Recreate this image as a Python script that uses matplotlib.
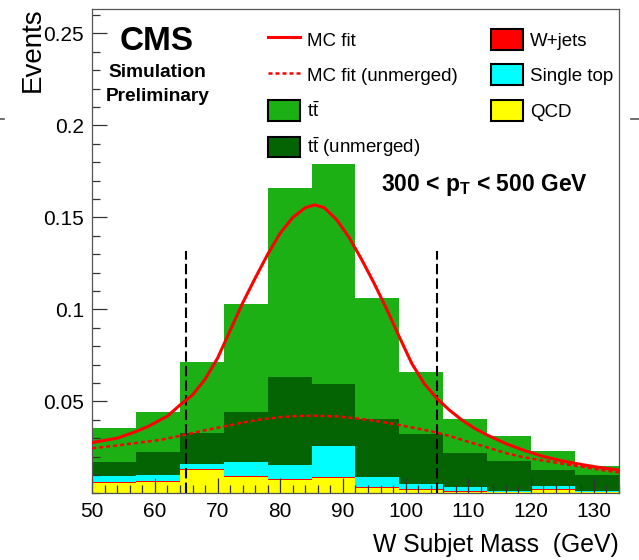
import numpy as np
import matplotlib.pyplot as plt
from matplotlib.lines import Line2D
from matplotlib.patches import Patch
from matplotlib.ticker import MultipleLocator

plt.rcParams['font.family'] = 'Liberation Sans'
plt.rcParams['mathtext.fontset'] = 'custom'
plt.rcParams['mathtext.rm'] = 'Liberation Sans'
plt.rcParams['mathtext.it'] = 'Liberation Sans:italic'
plt.rcParams['mathtext.bf'] = 'Liberation Sans:bold'

# W subjet mass histogram: 12 bins of 7 GeV
bin_edges = [50, 57, 64, 71, 78, 85, 92, 99, 106, 113, 120, 127, 134]

# per-sample contributions (stacked bottom to top)
qcd = [0.0058, 0.0059, 0.0124, 0.0086, 0.0073, 0.0082, 0.0027, 0.0020, 0.0005, 0.0005, 0.0018, 0.0005]
wjets = [0.0006, 0.0009, 0.0007, 0.0007, 0.0007, 0.0006, 0.0006, 0.0005, 0.0005, 0.0004, 0.0004, 0.0004]
single_top = [0.0032, 0.0032, 0.0029, 0.0077, 0.0075, 0.0167, 0.0058, 0.0024, 0.0026, 0.0003, 0.0020, 0.0003]
ttbar_unmerged = [0.0073, 0.0124, 0.0167, 0.0271, 0.0478, 0.0341, 0.0313, 0.0275, 0.0182, 0.0164, 0.0083, 0.0085]
ttbar = [0.0186, 0.0216, 0.0388, 0.0586, 0.1027, 0.1194, 0.0656, 0.0334, 0.0186, 0.0134, 0.0106, 0.0049]

# fitted curves
fit_mass = [50, 54, 57, 59, 62, 64, 66, 68, 70, 72, 74, 76, 78, 80, 82, 84, 85.5,
            87, 89, 91, 93, 95, 97, 99, 101, 103, 105, 107, 109, 111, 113, 116,
            119, 122, 125, 128, 131, 134]
fit_events = [0.0276, 0.0300, 0.0336, 0.0365, 0.0420, 0.0480, 0.0535, 0.0620, 0.0735,
              0.0885, 0.1035, 0.1170, 0.1300, 0.1415, 0.1500, 0.1553, 0.1568,
              0.1553, 0.1487, 0.1390, 0.1270, 0.1140, 0.1000, 0.0850, 0.0705,
              0.0595, 0.0515, 0.0452, 0.0398, 0.0353, 0.0317, 0.0270, 0.0232,
              0.0200, 0.0176, 0.0157, 0.0140, 0.0127]

fit_unm_mass = [50, 54, 58, 61, 65, 68, 71, 74, 77, 80, 83, 86, 89, 92, 95, 98,
                101, 104, 107, 110, 113, 116, 119, 122, 125, 128, 131, 134]
fit_unm_events = [0.0245, 0.0260, 0.0278, 0.0291, 0.0320, 0.0343, 0.0363, 0.0385,
                  0.0402, 0.0414, 0.0421, 0.0422, 0.0418, 0.0408, 0.0395, 0.0378,
                  0.0358, 0.0338, 0.0312, 0.0280, 0.0250, 0.0218, 0.0195, 0.0178,
                  0.0161, 0.0145, 0.0128, 0.0113]

# mass window
window = [65, 105]
window_top = 0.132

fig = plt.figure(figsize=(6.39, 5.6), dpi=100)
ax = fig.add_axes([0.1444, 0.1191, 0.8238, 0.8648])

stack = [(qcd, '#ffff00'), (wjets, '#ff0000'), (single_top, '#00ffff'),
         (ttbar_unmerged, '#046404'), (ttbar, '#1db014')]
bottom = np.zeros(len(bin_edges) - 1)
for vals, col in stack:
    top = bottom + np.array(vals)
    ax.stairs(top, bin_edges, baseline=bottom, fill=True, color=col, lw=0, zorder=1)
    bottom = top

for m in window:
    ax.plot([m, m], [0, window_top], color='black', lw=1.5, ls=(0, (5, 2)), zorder=3)

ax.plot(fit_unm_mass, fit_unm_events, color='#ff0000', lw=1.8, ls=(0, (1.6, 1.2)), zorder=4)
ax.plot(fit_mass, fit_events, color='#ff0000', lw=2.2, zorder=4)

ax.set_xlim(50, 134)
ax.set_ylim(0, 0.2633)
ax.xaxis.set_major_locator(MultipleLocator(10))
ax.xaxis.set_minor_locator(MultipleLocator(2))
ax.set_yticks([0.05, 0.1, 0.15, 0.2, 0.25])
ax.set_yticklabels(['0.05', '0.1', '0.15', '0.2', '0.25'])
ax.yaxis.set_minor_locator(MultipleLocator(0.01))
ax.tick_params(which='both', direction='in', top=False, right=False, width=0.9,
               color='#333333', labelsize=15)
ax.tick_params(which='major', length=11, pad=6)
ax.tick_params(which='minor', length=5.5)
for sp in ax.spines.values():
    sp.set_color('#555555')
    sp.set_linewidth(0.9)

ax.set_xlabel('W Subjet Mass  (GeV)', fontsize=17.8, ha='right', va='baseline')
ax.xaxis.set_label_coords(1.0, -0.121)
ax.set_ylabel('Events', fontsize=20, ha='right', va='center')
ax.yaxis.set_label_coords(-0.1127, 1.004)

ax.text(0.1229, 0.9154, 'CMS', transform=ax.transAxes, ha='center', va='baseline',
        fontsize=24, fontweight='bold')
ax.text(0.1229, 0.8595, 'Simulation', transform=ax.transAxes, ha='center', va='baseline',
        fontsize=13.8, fontweight='bold')
ax.text(0.125, 0.8099, 'Preliminary', transform=ax.transAxes, ha='center', va='baseline',
        fontsize=13.8, fontweight='bold')
ax.text(0.5484, 0.6232, r'300 < p$_{\mathbf{T}}$ < 500 GeV', transform=ax.transAxes,
        ha='left', va='baseline', fontsize=16.5, fontweight='bold')

leg_kw = dict(loc='upper left', frameon=False, fontsize=13.5, borderpad=0,
              borderaxespad=0, handlelength=1.7, handleheight=1.33,
              labelspacing=0.79, handletextpad=0.37)

left_handles = [
    Line2D([], [], color='#ff0000', lw=2.2),
    Line2D([], [], color='#ff0000', lw=1.8, ls=(0, (1.6, 1.2))),
    Patch(facecolor='#1db014', edgecolor='black', lw=1.5),
    Patch(facecolor='#046404', edgecolor='black', lw=1.5),
]
left_labels = ['MC fit', 'MC fit (unmerged)', r't$\bar{\mathrm{t}}$',
               r't$\bar{\mathrm{t}}$ (unmerged)']
leg1 = ax.legend(left_handles, left_labels, bbox_to_anchor=(0.3338, 0.959), **leg_kw)
ax.add_artist(leg1)

right_handles = [
    Patch(facecolor='#ff0000', edgecolor='black', lw=1.5),
    Patch(facecolor='#00ffff', edgecolor='black', lw=1.5),
    Patch(facecolor='#ffff00', edgecolor='black', lw=1.5),
]
ax.legend(right_handles, ['W+jets', 'Single top', 'QCD'],
          bbox_to_anchor=(0.7574, 0.959), **leg_kw)

# short tick marks left outside the frame at the page edges
for x0, x1 in [(0.0, 0.0063), (0.987, 1.0)]:
    fig.add_artist(Line2D([x0, x1], [0.787, 0.787], transform=fig.transFigure,
                          color='#555555', lw=1.2))

fig.savefig('out.png', dpi=100)
